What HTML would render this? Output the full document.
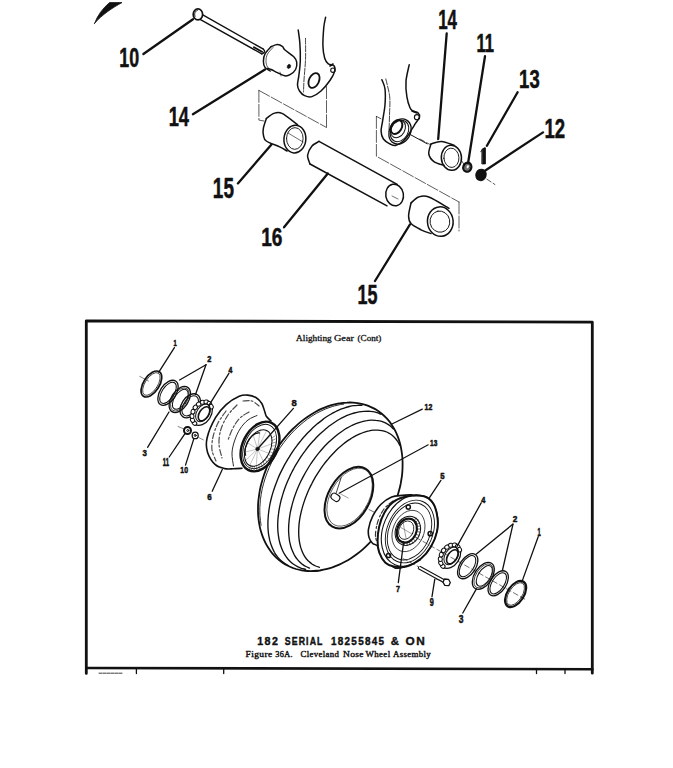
<!DOCTYPE html>
<html><head><meta charset="utf-8"><style>
html,body{margin:0;padding:0;background:#fff;}
svg{display:block;}
</style></head><body>
<svg width="673" height="768" viewBox="0 0 673 768" stroke-linecap="round" stroke-linejoin="round">
<rect width="673" height="768" fill="#fff"/>
<path d="M94.5,23.5 C97.5,15.5 102.5,8.5 109.5,2.6 L122,2.6 C113,7.5 102,14.5 94.5,23.5 Z" fill="#111" stroke="#111" stroke-width="0.80" />
<ellipse cx="197.9" cy="14.4" rx="4.70" ry="5.50" transform="rotate(0.0 197.9 14.4)" fill="none" stroke="#111" stroke-width="1.70" />
<path d="M195.1,16.4 C195.1,16.3 194.9,15.9 194.9,15.7 C194.8,15.5 194.8,15.2 194.7,15.0 C194.7,14.7 194.7,14.4 194.7,14.2 C194.7,13.9 194.7,13.7 194.8,13.4 C194.8,13.2 194.9,12.9 195.0,12.7 C195.1,12.5 195.2,12.3 195.3,12.0 C195.4,11.8 195.6,11.6 195.7,11.5 C195.9,11.3 196.0,11.1 196.2,11.0 C196.4,10.9 196.6,10.8 196.8,10.7 C196.9,10.6 197.2,10.5 197.3,10.5" fill="none" stroke="#111" stroke-width="1.00" />
<line x1="202.8" y1="14.9" x2="263.4" y2="49.2" stroke="#111" stroke-width="1.40" />
<line x1="200.5" y1="19.6" x2="261.8" y2="53.9" stroke="#111" stroke-width="1.40" />
<line x1="254.0" y1="47.2" x2="262.0" y2="51.8" stroke="#111" stroke-width="1.90" />
<path d="M263.4,49.2 Q266.5,52 261.8,53.9" fill="none" stroke="#111" stroke-width="1.40" />
<line x1="143.4" y1="54.0" x2="193.0" y2="19.2" stroke="#111" stroke-width="2.30" />
<text transform="translate(119.24 66.93) scale(0.1781 0.2704)" font-family="Liberation Sans" font-weight="bold" font-size="100" fill="#111" stroke="#111" stroke-width="2.01">10</text>
<path d="M271.2,46.6 C272.2,46.3 275.5,44.6 277.4,44.6 C279.3,44.6 281.4,45.7 282.6,46.6 C283.8,47.5 282.8,48.1 284.7,49.8 C286.6,51.5 292.0,54.9 294.0,57.0 C296.0,59.1 296.4,60.1 296.7,62.2 C297.0,64.3 296.7,67.4 295.6,69.5 C294.5,71.6 291.8,73.7 290.0,74.7 C288.2,75.8 286.8,76.2 284.7,75.8 C282.6,75.4 279.6,73.6 277.4,72.6 C275.1,71.5 272.8,70.2 271.2,69.5 C269.6,68.8 268.2,68.7 267.6,68.5" fill="none" stroke="#111" stroke-width="1.50" />
<path d="M271.2,46.6 C270.2,47.8 266.3,51.5 265.0,53.9 C263.7,56.3 263.4,59.0 263.4,61.2 C263.4,63.5 263.9,65.8 265.0,67.4 C266.1,69.0 269.3,70.4 270.2,71.0" fill="none" stroke="#111" stroke-width="1.50" />
<path d="M273.0,47.5 C272.1,48.6 268.7,51.8 267.5,54.0 C266.3,56.2 266.0,58.8 266.0,61.0 C266.0,63.2 266.6,65.5 267.5,67.0 C268.4,68.5 270.8,69.5 271.5,70.0" fill="none" stroke="#111" stroke-width="0.70" />
<ellipse cx="288.9" cy="66.4" rx="1.60" ry="2.20" transform="rotate(30.0 288.9 66.4)" fill="#111" stroke="#111" stroke-width="0.50" />
<line x1="280.0" y1="72.0" x2="281.0" y2="76.0" stroke="#111" stroke-width="0.60" />
<line x1="192.9" y1="114.2" x2="265.0" y2="69.5" stroke="#111" stroke-width="2.30" />
<text transform="translate(168.71 126.30) scale(0.1827 0.2754)" font-family="Liberation Sans" font-weight="bold" font-size="100" fill="#111" stroke="#111" stroke-width="1.96">14</text>
<path d="M298.2,30.0 C298.5,32.1 299.4,37.3 299.8,42.5 C300.2,47.7 300.5,55.7 300.3,61.2 C300.1,66.8 299.3,71.8 298.8,75.8 C298.3,79.8 297.4,82.5 297.5,85.0 C297.6,87.5 298.3,89.2 299.5,91.0 C300.7,92.8 302.5,94.7 304.6,95.6 C306.7,96.5 309.2,97.4 311.9,96.6 C314.6,95.8 318.0,93.7 321.0,91.0 C324.0,88.3 327.8,83.5 330.1,80.2 C332.4,76.9 334.1,73.5 334.7,71.1 C335.3,68.7 334.9,66.8 333.8,65.6 C332.7,64.4 329.8,65.0 328.3,63.8 C326.8,62.6 325.6,61.3 324.7,58.3 C323.8,55.2 323.0,50.7 322.9,45.5 C322.8,40.3 323.4,32.0 323.8,27.3 C324.2,22.6 325.3,19.0 325.6,17.3" fill="none" stroke="#111" stroke-width="1.50" />
<path d="M305.5,38.3 C305.5,41.9 305.8,53.0 305.5,60.0 C305.2,67.0 304.3,74.7 304.0,80.0 C303.7,85.3 303.6,90.0 303.5,92.0" fill="none" stroke="#111" stroke-width="0.80" stroke-dasharray="6 1.5"/>
<ellipse cx="314.0" cy="80.5" rx="5.00" ry="7.80" transform="rotate(25.0 314.0 80.5)" fill="none" stroke="#111" stroke-width="1.80" />
<ellipse cx="332.9" cy="70.2" rx="2.20" ry="2.20" transform="rotate(0.0 332.9 70.2)" fill="none" stroke="#111" stroke-width="1.10" />
<line x1="330.0" y1="66.0" x2="333.0" y2="64.0" stroke="#111" stroke-width="1.60" />
<path d="M258.9,90.4 L326.5,127.5 M258.9,90.4 L258.9,120.1 L264,121 M326.5,86.7 L326.5,127.5" stroke="#111" stroke-width="0.8" fill="none" stroke-dasharray="12 2" opacity="0.85"/>
<path d="M266.3,118.6 C267.6,117.7 271.2,114.3 273.8,113.4 C276.4,112.5 278.1,111.5 282.0,113.4 C285.9,115.3 294.9,122.7 297.5,124.6" fill="none" stroke="#111" stroke-width="1.50" />
<path d="M266.3,118.6 C265.8,120.2 263.9,125.3 263.4,128.0 C262.9,130.7 262.9,132.8 263.4,135.0 C263.9,137.2 263.6,139.0 266.3,141.0 C269.0,143.0 276.2,145.2 279.7,146.9 C283.1,148.6 285.8,150.3 287.0,151.0" fill="none" stroke="#111" stroke-width="1.50" />
<ellipse cx="294.9" cy="139.1" rx="13.89" ry="10.95" transform="rotate(-85.0 294.9 139.1)" fill="none" stroke="#111" stroke-width="1.50" />
<ellipse cx="294.8" cy="138.5" rx="8.30" ry="10.84" transform="rotate(-179.0 294.8 138.5)" fill="none" stroke="#111" stroke-width="0.90" />
<line x1="288.0" y1="133.0" x2="303.0" y2="142.0" stroke="#111" stroke-width="0.60" />
<line x1="237.9" y1="183.4" x2="271.5" y2="144.5" stroke="#111" stroke-width="2.30" />
<text transform="translate(212.87 197.51) scale(0.1892 0.2900)" font-family="Liberation Sans" font-weight="bold" font-size="100" fill="#111" stroke="#111" stroke-width="1.88">15</text>
<path d="M319.0,141.4 C317.8,142.2 313.9,143.7 312.0,146.0 C310.1,148.3 307.9,152.3 307.6,155.3 C307.3,158.3 309.6,162.6 310.0,164.0" fill="none" stroke="#111" stroke-width="1.50" />
<line x1="319.0" y1="141.4" x2="397.2" y2="184.3" stroke="#111" stroke-width="1.50" />
<line x1="310.0" y1="164.0" x2="387.0" y2="205.8" stroke="#111" stroke-width="1.50" />
<ellipse cx="394.6" cy="195.0" rx="10.88" ry="8.84" transform="rotate(-100.0 394.6 195.0)" fill="none" stroke="#111" stroke-width="1.50" />
<line x1="392.0" y1="196.0" x2="398.0" y2="199.0" stroke="#111" stroke-width="0.60" />
<line x1="327.8" y1="173.5" x2="284.0" y2="227.3" stroke="#111" stroke-width="2.30" />
<text transform="translate(261.16 245.54) scale(0.1911 0.2606)" font-family="Liberation Sans" font-weight="bold" font-size="100" fill="#111" stroke="#111" stroke-width="1.99">16</text>
<path d="M381.9,79.7 C382.4,81.2 384.5,84.8 385.0,89.0 C385.5,93.2 385.4,99.5 385.0,104.7 C384.6,109.9 383.3,115.9 382.7,120.3 C382.1,124.7 381.0,128.1 381.1,131.2 C381.2,134.4 382.0,136.9 383.4,139.0 C384.8,141.1 387.6,142.7 389.7,143.8 C391.8,144.8 393.4,146.1 396.0,145.3 C398.6,144.5 402.7,141.6 405.3,139.0 C407.9,136.4 409.9,132.3 411.6,129.7 C413.3,127.1 414.2,125.5 415.5,123.4 C416.8,121.3 419.0,119.0 419.4,117.2 C419.8,115.4 418.9,113.5 417.8,112.5 C416.7,111.5 414.3,111.8 413.0,111.0 C411.7,110.2 411.0,110.1 410.0,107.8 C409.0,105.5 407.6,101.3 406.9,96.9 C406.2,92.5 405.6,86.6 406.0,81.2 C406.4,75.9 408.7,67.5 409.2,64.8" fill="none" stroke="#111" stroke-width="1.50" />
<path d="M385.8,78.9 C386.4,81.9 389.1,90.9 389.7,96.9 C390.3,102.9 389.6,109.3 389.5,115.0 C389.4,120.7 389.1,128.3 389.0,131.0" fill="none" stroke="#111" stroke-width="0.80" stroke-dasharray="6 1.5"/>
<ellipse cx="400.0" cy="131.5" rx="10.50" ry="13.20" transform="rotate(30.0 400.0 131.5)" fill="none" stroke="#111" stroke-width="1.30" />
<ellipse cx="399.5" cy="131.0" rx="8.60" ry="11.20" transform="rotate(30.0 399.5 131.0)" fill="none" stroke="#111" stroke-width="1.00" />
<ellipse cx="398.0" cy="129.0" rx="6.80" ry="9.20" transform="rotate(30.0 398.0 129.0)" fill="none" stroke="#111" stroke-width="1.00" />
<ellipse cx="396.5" cy="127.0" rx="5.20" ry="7.50" transform="rotate(30.0 396.5 127.0)" fill="none" stroke="#111" stroke-width="2.00" />
<ellipse cx="417.0" cy="117.2" rx="2.60" ry="2.60" transform="rotate(0.0 417.0 117.2)" fill="none" stroke="#111" stroke-width="1.10" />
<line x1="412.0" y1="111.0" x2="417.0" y2="113.0" stroke="#111" stroke-width="1.60" />
<line x1="410.0" y1="134.4" x2="427.2" y2="143.8" stroke="#111" stroke-width="1.00" />
<path d="M376.4,116.4 L381,118.75 M376.4,116.4 L376.4,156.25 L459,202 M459,202 L459,231" stroke="#111" stroke-width="0.8" fill="none" stroke-dasharray="12 2" opacity="0.85"/>
<path d="M431.0,143.9 C432.7,143.5 437.6,141.2 441.4,141.4 C445.2,141.6 451.9,144.6 454.0,145.2" fill="none" stroke="#111" stroke-width="1.50" />
<path d="M431.0,143.9 C430.6,145.6 428.3,151.1 428.8,154.0 C429.3,156.9 431.4,159.7 433.9,161.6 C436.4,163.5 442.3,164.8 444.0,165.4" fill="none" stroke="#111" stroke-width="1.50" />
<ellipse cx="451.4" cy="157.8" rx="12.55" ry="10.07" transform="rotate(-93.5 451.4 157.8)" fill="none" stroke="#111" stroke-width="1.50" />
<ellipse cx="451.4" cy="157.8" rx="7.52" ry="9.65" transform="rotate(176.1 451.4 157.8)" fill="none" stroke="#111" stroke-width="0.90" />
<line x1="446.7" y1="33.4" x2="438.2" y2="139.0" stroke="#111" stroke-width="2.30" />
<text transform="translate(438.20 29.40) scale(0.1692 0.2710)" font-family="Liberation Sans" font-weight="bold" font-size="100" fill="#111" stroke="#111" stroke-width="2.04">14</text>
<ellipse cx="467.3" cy="167.2" rx="4.00" ry="4.60" transform="rotate(20.0 467.3 167.2)" fill="#777" stroke="#111" stroke-width="2.20" />
<ellipse cx="467.8" cy="166.8" rx="1.60" ry="2.00" transform="rotate(20.0 467.8 166.8)" fill="#fff" stroke="#111" stroke-width="0.40" />
<line x1="485.0" y1="56.2" x2="468.1" y2="163.0" stroke="#111" stroke-width="2.30" />
<text transform="translate(476.42 51.60) scale(0.1658 0.2638)" font-family="Liberation Sans" font-weight="bold" font-size="100" fill="#111" stroke="#111" stroke-width="2.10">11</text>
<ellipse cx="481.0" cy="174.9" rx="5.20" ry="5.80" transform="rotate(20.0 481.0 174.9)" fill="#111" stroke="#111" stroke-width="1.00" />
<line x1="543.0" y1="132.4" x2="484.2" y2="171.2" stroke="#111" stroke-width="2.30" />
<text transform="translate(544.49 137.70) scale(0.1861 0.2857)" font-family="Liberation Sans" font-weight="bold" font-size="100" fill="#111" stroke="#111" stroke-width="1.91">12</text>
<line x1="517.6" y1="92.3" x2="486.9" y2="145.8" stroke="#111" stroke-width="2.30" />
<text transform="translate(519.10 88.04) scale(0.1851 0.2648)" font-family="Liberation Sans" font-weight="bold" font-size="100" fill="#111" stroke="#111" stroke-width="2.00">13</text>
<path d="M482.2,149.5 L484.2,147.8 L485.4,147.8 L485.4,163.9 L482.2,163.9 Z M482.6,148.8 L480.8,151.8" fill="#111" stroke="#111" stroke-width="0.90" />
<g stroke="#111" stroke-width="0.7" stroke-dasharray="5 2.5">
<line x1="420.0" y1="139.0" x2="430.0" y2="144.5" stroke="#111" stroke-width="0.70" />
<line x1="461.5" y1="160.5" x2="464.0" y2="164.5" stroke="#111" stroke-width="0.70" />
<line x1="486.9" y1="179.2" x2="494.9" y2="184.5" stroke="#111" stroke-width="0.70" />
</g>
<path d="M411.0,203.0 C412.3,202.0 415.7,198.0 418.7,197.0 C421.7,196.0 423.8,195.1 428.8,197.0 C433.9,198.9 445.6,206.4 449.0,208.3" fill="none" stroke="#111" stroke-width="1.50" />
<path d="M411.0,203.0 C410.6,205.2 408.6,212.5 408.6,215.9 C408.6,219.3 408.9,221.2 411.0,223.5 C413.1,225.8 417.7,228.1 421.0,229.8 C424.3,231.5 429.3,233.0 431.0,233.6" fill="none" stroke="#111" stroke-width="1.50" />
<ellipse cx="440.3" cy="221.6" rx="12.83" ry="14.75" transform="rotate(175.0 440.3 221.6)" fill="none" stroke="#111" stroke-width="1.50" />
<ellipse cx="439.9" cy="221.6" rx="10.65" ry="9.85" transform="rotate(-100.9 439.9 221.6)" fill="none" stroke="#111" stroke-width="0.90" />
<line x1="375.0" y1="281.0" x2="409.9" y2="224.5" stroke="#111" stroke-width="2.30" />
<text transform="translate(357.43 303.72) scale(0.1794 0.2757)" font-family="Liberation Sans" font-weight="bold" font-size="100" fill="#111" stroke="#111" stroke-width="1.98">15</text>
<path d="M86.3,673.4 L86.3,320.8 L592.3,322.2 L592.3,673.2" fill="none" stroke="#111" stroke-width="2.8"/>
<path d="M86.3,668 L592.3,669.2" fill="none" stroke="#111" stroke-width="2.6"/>
<line x1="136.4" y1="669.0" x2="136.4" y2="673.5" stroke="#111" stroke-width="1.30" />
<line x1="223.7" y1="669.0" x2="223.7" y2="673.5" stroke="#111" stroke-width="1.30" />
<line x1="536.5" y1="669.0" x2="536.5" y2="673.5" stroke="#111" stroke-width="1.30" />
<line x1="565.0" y1="669.0" x2="565.0" y2="673.5" stroke="#111" stroke-width="1.30" />
<path d="M99,673.2 L122,673.2" stroke="#111" stroke-width="1.0" stroke-dasharray="3 1" opacity="0.8"/>
<text transform="translate(296.11 341.40) scale(0.0930 0.0794)" font-family="Liberation Serif" font-weight="normal" font-size="100" fill="#111" stroke="#111" stroke-width="3.48">Alighting</text>
<text transform="translate(333.89 341.40) scale(0.1034 0.0794)" font-family="Liberation Serif" font-weight="normal" font-size="100" fill="#111" stroke="#111" stroke-width="3.28">Gear</text>
<text transform="translate(357.59 341.40) scale(0.0911 0.0794)" font-family="Liberation Serif" font-weight="normal" font-size="100" fill="#111" stroke="#111" stroke-width="3.52">(Cont)</text>
<text transform="translate(257.31 645.20) scale(0.1066 0.1130)" font-family="Liberation Sans" font-weight="bold" font-size="100" fill="#111" letter-spacing="13.0" style="font-kerning:none" stroke="#111" stroke-width="3.64">182</text>
<text transform="translate(284.74 645.20) scale(0.0874 0.1130)" font-family="Liberation Sans" font-weight="bold" font-size="100" fill="#111" letter-spacing="13.0" style="font-kerning:none" stroke="#111" stroke-width="3.99">SERIAL</text>
<text transform="translate(330.95 645.20) scale(0.0992 0.1130)" font-family="Liberation Sans" font-weight="bold" font-size="100" fill="#111" letter-spacing="13.0" style="font-kerning:none" stroke="#111" stroke-width="3.77">18255845</text>
<text transform="translate(390.79 645.20) scale(0.1132 0.1130)" font-family="Liberation Sans" font-weight="bold" font-size="100" fill="#111" letter-spacing="13.0" style="font-kerning:none" stroke="#111" stroke-width="3.54">&amp;</text>
<text transform="translate(405.53 645.20) scale(0.1180 0.1130)" font-family="Liberation Sans" font-weight="bold" font-size="100" fill="#111" letter-spacing="13.0" style="font-kerning:none" stroke="#111" stroke-width="3.46">ON</text>
<text transform="translate(245.62 657.00) scale(0.0947 0.0870)" font-family="Liberation Serif" font-weight="normal" font-size="100" fill="#111" letter-spacing="4.0" style="font-kerning:none" stroke="#111" stroke-width="4.40">Figure</text>
<text transform="translate(275.29 657.00) scale(0.0825 0.0870)" font-family="Liberation Serif" font-weight="normal" font-size="100" fill="#111" letter-spacing="4.0" style="font-kerning:none" stroke="#111" stroke-width="4.72">36A.</text>
<text transform="translate(300.55 657.00) scale(0.0876 0.0870)" font-family="Liberation Serif" font-weight="normal" font-size="100" fill="#111" letter-spacing="4.0" style="font-kerning:none" stroke="#111" stroke-width="4.58">Cleveland</text>
<text transform="translate(342.92 657.00) scale(0.0948 0.0870)" font-family="Liberation Serif" font-weight="normal" font-size="100" fill="#111" letter-spacing="4.0" style="font-kerning:none" stroke="#111" stroke-width="4.40">Nose</text>
<text transform="translate(365.50 657.00) scale(0.0891 0.0870)" font-family="Liberation Serif" font-weight="normal" font-size="100" fill="#111" letter-spacing="4.0" style="font-kerning:none" stroke="#111" stroke-width="4.54">Wheel</text>
<text transform="translate(392.91 657.00) scale(0.0886 0.0870)" font-family="Liberation Serif" font-weight="normal" font-size="100" fill="#111" letter-spacing="4.0" style="font-kerning:none" stroke="#111" stroke-width="4.55">Assembly</text>
<ellipse cx="151.4" cy="384.0" rx="7.90" ry="14.60" transform="rotate(33.0 151.4 384.0)" fill="none" stroke="#111" stroke-width="1.70" />
<ellipse cx="151.4" cy="384.0" rx="6.30" ry="12.90" transform="rotate(33.0 151.4 384.0)" fill="none" stroke="#111" stroke-width="0.70" />
<line x1="139.7" y1="376.4" x2="148.4" y2="381.0" stroke="#111" stroke-width="0.50" />
<line x1="174.4" y1="347.6" x2="158.8" y2="372.1" stroke="#111" stroke-width="1.30" />
<text transform="translate(173.52 346.10) scale(0.0581 0.0855)" font-family="Liberation Sans" font-weight="bold" font-size="100" fill="#111" stroke="#111" stroke-width="6.27">1</text>
<ellipse cx="168.0" cy="392.8" rx="8.00" ry="14.00" transform="rotate(33.0 168.0 392.8)" fill="none" stroke="#111" stroke-width="1.30" />
<ellipse cx="168.0" cy="392.8" rx="6.10" ry="12.00" transform="rotate(33.0 168.0 392.8)" fill="none" stroke="#111" stroke-width="1.00" />
<ellipse cx="179.8" cy="399.5" rx="8.60" ry="14.50" transform="rotate(33.0 179.8 399.5)" fill="none" stroke="#111" stroke-width="1.30" />
<ellipse cx="179.8" cy="399.5" rx="7.20" ry="13.00" transform="rotate(33.0 179.8 399.5)" fill="none" stroke="#111" stroke-width="0.70" />
<ellipse cx="180.3" cy="399.3" rx="5.90" ry="11.30" transform="rotate(33.0 180.3 399.3)" fill="none" stroke="#111" stroke-width="1.00" />
<ellipse cx="190.2" cy="405.8" rx="8.60" ry="13.20" transform="rotate(33.0 190.2 405.8)" fill="none" stroke="#111" stroke-width="1.30" />
<ellipse cx="190.2" cy="405.8" rx="6.70" ry="11.20" transform="rotate(33.0 190.2 405.8)" fill="none" stroke="#111" stroke-width="1.00" />
<ellipse cx="201.8" cy="413.2" rx="9.40" ry="13.10" transform="rotate(33.0 201.8 413.2)" fill="#fff" stroke="#111" stroke-width="1.20" />
<ellipse cx="194.5" cy="423.1" rx="2.00" ry="2.40" transform="rotate(128.0 194.5 423.1)" fill="#fff" stroke="#111" stroke-width="1.00" />
<ellipse cx="192.5" cy="420.1" rx="2.00" ry="2.40" transform="rotate(150.8 192.5 420.1)" fill="#fff" stroke="#111" stroke-width="1.00" />
<ellipse cx="192.0" cy="416.1" rx="2.00" ry="2.40" transform="rotate(173.6 192.0 416.1)" fill="#fff" stroke="#111" stroke-width="1.00" />
<ellipse cx="193.0" cy="411.7" rx="2.00" ry="2.40" transform="rotate(196.3 193.0 411.7)" fill="#fff" stroke="#111" stroke-width="1.00" />
<ellipse cx="195.3" cy="407.4" rx="2.00" ry="2.40" transform="rotate(219.1 195.3 407.4)" fill="#fff" stroke="#111" stroke-width="1.00" />
<ellipse cx="198.7" cy="404.1" rx="2.00" ry="2.40" transform="rotate(241.9 198.7 404.1)" fill="#fff" stroke="#111" stroke-width="1.00" />
<ellipse cx="202.6" cy="402.2" rx="2.00" ry="2.40" transform="rotate(264.7 202.6 402.2)" fill="#fff" stroke="#111" stroke-width="1.00" />
<ellipse cx="206.3" cy="402.0" rx="2.00" ry="2.40" transform="rotate(287.4 206.3 402.0)" fill="#fff" stroke="#111" stroke-width="1.00" />
<ellipse cx="209.4" cy="403.6" rx="2.00" ry="2.40" transform="rotate(310.2 209.4 403.6)" fill="#fff" stroke="#111" stroke-width="1.00" />
<ellipse cx="211.2" cy="406.6" rx="2.00" ry="2.40" transform="rotate(333.0 211.2 406.6)" fill="#fff" stroke="#111" stroke-width="1.00" />
<ellipse cx="203.0" cy="412.9" rx="6.20" ry="9.70" transform="rotate(33.0 203.0 412.9)" fill="none" stroke="#111" stroke-width="1.00" />
<ellipse cx="204.0" cy="413.8" rx="4.60" ry="7.90" transform="rotate(33.0 204.0 413.8)" fill="none" stroke="#111" stroke-width="1.60" />
<line x1="206.0" y1="364.7" x2="179.6" y2="380.0" stroke="#111" stroke-width="1.30" />
<line x1="206.0" y1="364.7" x2="195.5" y2="394.5" stroke="#111" stroke-width="1.30" />
<text transform="translate(207.24 362.00) scale(0.0750 0.0886)" font-family="Liberation Sans" font-weight="bold" font-size="100" fill="#111" stroke="#111" stroke-width="5.50">2</text>
<line x1="228.9" y1="373.3" x2="209.1" y2="405.2" stroke="#111" stroke-width="1.30" />
<text transform="translate(228.50 372.90) scale(0.0692 0.0870)" font-family="Liberation Sans" font-weight="bold" font-size="100" fill="#111" stroke="#111" stroke-width="5.76">4</text>
<line x1="147.6" y1="447.3" x2="169.0" y2="412.0" stroke="#111" stroke-width="1.30" />
<text transform="translate(142.50 456.11) scale(0.0788 0.0944)" font-family="Liberation Sans" font-weight="bold" font-size="100" fill="#111" stroke="#111" stroke-width="5.20">3</text>
<ellipse cx="187.5" cy="430.5" rx="3.50" ry="3.50" transform="rotate(0.0 187.5 430.5)" fill="none" stroke="#111" stroke-width="2.00" />
<ellipse cx="187.8" cy="430.5" rx="1.00" ry="1.00" transform="rotate(0.0 187.8 430.5)" fill="#fff" stroke="#111" stroke-width="1.00" />
<ellipse cx="195.2" cy="435.4" rx="3.00" ry="3.30" transform="rotate(0.0 195.2 435.4)" fill="none" stroke="#111" stroke-width="1.30" />
<ellipse cx="195.2" cy="435.4" rx="1.00" ry="1.00" transform="rotate(0.0 195.2 435.4)" fill="none" stroke="#111" stroke-width="1.00" />
<line x1="178.0" y1="426.5" x2="184.0" y2="429.0" stroke="#111" stroke-width="0.50" />
<line x1="198.9" y1="437.6" x2="203.4" y2="439.9" stroke="#111" stroke-width="0.50" />
<line x1="169.2" y1="457.0" x2="184.8" y2="433.9" stroke="#111" stroke-width="1.30" />
<text transform="translate(162.82 466.30) scale(0.0591 0.1029)" font-family="Liberation Sans" font-weight="bold" font-size="100" fill="#111" stroke="#111" stroke-width="5.56">11</text>
<line x1="185.5" y1="465.1" x2="193.7" y2="439.1" stroke="#111" stroke-width="1.30" />
<text transform="translate(180.35 473.21) scale(0.0687 0.0944)" font-family="Liberation Sans" font-weight="bold" font-size="100" fill="#111" stroke="#111" stroke-width="5.52">10</text>
<path d="M271.0,421.0 C270.2,420.2 267.5,418.0 266.5,416.5 C265.5,415.0 265.6,414.0 264.8,411.8 C264.0,409.6 263.3,405.9 261.8,403.5 C260.3,401.1 258.3,398.9 255.9,397.5 C253.5,396.1 250.4,395.3 247.6,395.1 C244.8,394.9 242.8,394.7 239.2,396.3 C235.6,397.9 230.1,401.0 226.2,404.6 C222.2,408.2 218.7,412.1 215.5,417.7 C212.3,423.3 208.4,432.2 207.1,438.0 C205.8,443.8 206.1,447.8 207.5,452.2 C208.9,456.6 212.4,462.0 215.3,464.7 C218.2,467.4 221.8,467.9 224.7,468.6 C227.6,469.3 230.1,468.9 233.0,468.8 C235.9,468.8 240.5,468.4 242.0,468.3" fill="none" stroke="#111" stroke-width="1.60" />
<path d="M257.0,415.5 C255.5,416.2 250.8,417.8 248.0,420.0 C245.2,422.2 242.2,425.5 240.0,429.0 C237.8,432.5 235.8,437.0 234.5,441.0 C233.2,445.0 232.2,448.8 232.0,453.0 C231.8,457.2 233.2,463.8 233.5,466.0" fill="none" stroke="#111" stroke-width="0.90" />
<g stroke="#111" stroke-width="0.6" fill="none" stroke-dasharray="6 2 2 2.5" opacity="0.75">
<path d="M226.0,411.0 C224.7,413.0 220.2,418.7 218.0,423.0 C215.8,427.3 214.0,432.5 213.0,437.0 C212.0,441.5 211.5,446.0 212.0,450.0 C212.5,454.0 215.3,459.2 216.0,461.0" fill="none" stroke="#111" stroke-width="1.20" />
<path d="M237.0,405.0 C235.5,406.7 230.7,411.0 228.0,415.0 C225.3,419.0 222.5,424.2 221.0,429.0 C219.5,433.8 218.8,439.2 219.0,444.0 C219.2,448.8 221.5,455.7 222.0,458.0" fill="none" stroke="#111" stroke-width="1.20" />
<path d="M243.0,401.0 C244.5,401.0 249.3,400.2 252.0,401.0 C254.7,401.8 257.8,405.2 259.0,406.0" fill="none" stroke="#111" stroke-width="1.20" />
<path d="M249.0,412.0 C247.5,413.0 242.7,415.3 240.0,418.0 C237.3,420.7 235.0,424.3 233.0,428.0 C231.0,431.7 228.8,438.0 228.0,440.0" fill="none" stroke="#111" stroke-width="1.20" />
</g>
<ellipse cx="260.0" cy="446.5" rx="17.40" ry="26.30" transform="rotate(26.0 260.0 446.5)" fill="#fff" stroke="#111" stroke-width="2.40" />
<ellipse cx="259.6" cy="446.5" rx="15.00" ry="23.50" transform="rotate(26.0 259.6 446.5)" fill="none" stroke="#111" stroke-width="0.90" />
<g stroke="#111" stroke-width="0.45" opacity="0.75">
<line x1="271.7" y1="438.0" x2="275.0" y2="435.9" stroke="#111" stroke-width="0.55" />
<line x1="271.9" y1="440.5" x2="275.4" y2="439.0" stroke="#111" stroke-width="0.55" />
<line x1="271.9" y1="443.2" x2="275.3" y2="442.3" stroke="#111" stroke-width="0.55" />
<line x1="271.5" y1="446.0" x2="274.9" y2="445.8" stroke="#111" stroke-width="0.55" />
<line x1="270.7" y1="448.9" x2="274.0" y2="449.3" stroke="#111" stroke-width="0.55" />
<line x1="269.7" y1="451.7" x2="272.7" y2="452.8" stroke="#111" stroke-width="0.55" />
<line x1="268.4" y1="454.5" x2="271.1" y2="456.1" stroke="#111" stroke-width="0.55" />
<line x1="266.8" y1="457.1" x2="269.2" y2="459.3" stroke="#111" stroke-width="0.55" />
<line x1="265.0" y1="459.4" x2="267.0" y2="462.2" stroke="#111" stroke-width="0.55" />
<line x1="263.0" y1="461.5" x2="264.5" y2="464.7" stroke="#111" stroke-width="0.55" />
<line x1="261.0" y1="463.3" x2="262.0" y2="466.9" stroke="#111" stroke-width="0.55" />
<line x1="258.8" y1="464.7" x2="259.3" y2="468.5" stroke="#111" stroke-width="0.55" />
<line x1="256.7" y1="465.7" x2="256.6" y2="469.7" stroke="#111" stroke-width="0.55" />
<line x1="254.5" y1="466.2" x2="253.9" y2="470.3" stroke="#111" stroke-width="0.55" />
<line x1="252.5" y1="466.3" x2="251.4" y2="470.4" stroke="#111" stroke-width="0.55" />
<line x1="250.6" y1="465.9" x2="249.0" y2="469.9" stroke="#111" stroke-width="0.55" />
</g>
<ellipse cx="258.2" cy="448.0" rx="12.00" ry="19.50" transform="rotate(26.0 258.2 448.0)" fill="none" stroke="#111" stroke-width="1.00" />
<path d="M245.6,455.1 C245.5,454.9 245.4,454.4 245.3,453.9 C245.2,453.5 245.1,453.1 245.1,452.6 C245.1,452.2 245.0,451.7 245.0,451.2 C245.1,450.7 245.1,450.2 245.2,449.7 C245.2,449.2 245.3,448.7 245.4,448.1 C245.5,447.6 245.6,447.1 245.8,446.6 C245.9,446.0 246.1,445.5 246.3,445.0 C246.5,444.4 246.7,443.9 246.9,443.4 C247.1,442.9 247.4,442.3 247.6,441.8 C247.9,441.3 248.2,440.8 248.5,440.4 C248.8,439.9 249.1,439.4 249.4,439.0 C249.7,438.5 250.1,438.1 250.4,437.7 C250.8,437.3 251.1,436.9 251.5,436.5 C251.9,436.1 252.2,435.8 252.6,435.5 C253.0,435.2 253.4,434.9 253.8,434.6 C254.1,434.4 254.5,434.1 254.9,433.9 C255.3,433.7 255.7,433.5 256.1,433.4 C256.4,433.3 256.8,433.2 257.2,433.1 C257.6,433.0 257.9,433.0 258.3,432.9 C258.6,432.9 259.1,433.0 259.3,433.0" fill="none" stroke="#111" stroke-width="1.30" />
<g stroke="#111" stroke-width="0.4" opacity="0.55">
<line x1="257.5" y1="449.0" x2="269.0" y2="453.3" stroke="#111" stroke-width="0.45" />
<line x1="257.5" y1="449.0" x2="263.3" y2="461.3" stroke="#111" stroke-width="0.45" />
<line x1="257.5" y1="449.0" x2="256.2" y2="465.8" stroke="#111" stroke-width="0.45" />
<line x1="257.5" y1="449.0" x2="249.7" y2="465.5" stroke="#111" stroke-width="0.45" />
<line x1="257.5" y1="449.0" x2="245.4" y2="460.5" stroke="#111" stroke-width="0.45" />
<line x1="257.5" y1="449.0" x2="244.6" y2="452.2" stroke="#111" stroke-width="0.45" />
<line x1="257.5" y1="449.0" x2="247.4" y2="442.7" stroke="#111" stroke-width="0.45" />
<line x1="257.5" y1="449.0" x2="253.1" y2="434.7" stroke="#111" stroke-width="0.45" />
<line x1="257.5" y1="449.0" x2="260.2" y2="430.2" stroke="#111" stroke-width="0.45" />
<line x1="257.5" y1="449.0" x2="266.7" y2="430.5" stroke="#111" stroke-width="0.45" />
<line x1="257.5" y1="449.0" x2="271.0" y2="435.5" stroke="#111" stroke-width="0.45" />
<line x1="257.5" y1="449.0" x2="271.8" y2="443.8" stroke="#111" stroke-width="0.45" />
</g>
<line x1="293.4" y1="408.4" x2="257.5" y2="449.0" stroke="#111" stroke-width="1.30" />
<ellipse cx="257.5" cy="449.0" rx="1.60" ry="1.60" transform="rotate(0.0 257.5 449.0)" fill="#111" stroke="#111" stroke-width="1.00" />
<text transform="translate(291.62 406.01) scale(0.0949 0.0887)" font-family="Liberation Sans" font-weight="bold" font-size="100" fill="#111" stroke="#111" stroke-width="4.90">8</text>
<line x1="212.2" y1="491.2" x2="222.3" y2="469.4" stroke="#111" stroke-width="1.30" />
<text transform="translate(207.22 499.70) scale(0.0804 0.0986)" font-family="Liberation Sans" font-weight="bold" font-size="100" fill="#111" stroke="#111" stroke-width="5.03">6</text>
<path d="M375.2,409.1 C375.9,409.6 378.4,411.1 379.9,412.3 C381.5,413.4 382.9,414.7 384.3,416.0 C385.7,417.3 387.0,418.7 388.3,420.2 C389.6,421.7 390.7,423.3 391.8,425.0 C392.9,426.7 394.0,428.4 394.9,430.2 C395.9,432.1 396.7,433.9 397.5,435.9 C398.3,437.9 399.0,439.9 399.6,442.0 C400.2,444.0 400.7,446.2 401.1,448.3 C401.5,450.5 401.9,452.8 402.1,455.0 C402.4,457.3 402.5,459.6 402.6,462.0 C402.6,464.3 402.6,466.7 402.5,469.1 C402.4,471.5 402.2,473.9 401.9,476.3 C401.5,478.8 401.1,481.2 400.7,483.7 C400.2,486.1 399.6,488.6 398.9,491.0 C398.3,493.5 397.5,495.9 396.7,498.3 C395.9,500.8 394.9,503.2 394.0,505.6 C393.0,508.0 391.9,510.3 390.7,512.7 C389.6,515.0 388.3,517.3 387.0,519.6 C385.7,521.8 384.3,524.0 382.9,526.2 C381.5,528.4 379.9,530.5 378.4,532.5 C376.8,534.6 375.2,536.6 373.5,538.5 C371.8,540.5 370.1,542.3 368.3,544.1 C366.5,545.9 364.6,547.7 362.8,549.3 C360.9,551.0 359.0,552.5 357.0,554.0 C355.0,555.5 353.1,556.9 351.0,558.2 C349.0,559.5 347.0,560.7 344.9,561.8 C342.9,562.9 340.8,564.0 338.7,564.9 C336.6,565.8 334.5,566.6 332.4,567.4 C330.3,568.1 328.2,568.7 326.1,569.2 C324.0,569.7 321.9,570.1 319.8,570.5 C317.7,570.8 315.7,571.0 313.6,571.0 C311.6,571.1 309.5,571.1 307.6,571.0 C305.6,570.9 303.6,570.6 301.7,570.3 C299.7,570.0 297.8,569.5 296.0,569.0 C294.1,568.4 292.3,567.8 290.6,567.0 C288.8,566.3 287.1,565.4 285.4,564.5 C283.8,563.5 282.2,562.5 280.7,561.3 C279.1,560.2 277.7,558.9 276.3,557.6 C274.9,556.3 273.6,554.9 272.3,553.4 C271.0,551.9 269.9,550.3 268.8,548.6 C267.7,546.9 266.6,545.2 265.7,543.4 C264.7,541.5 263.9,539.7 263.1,537.7 C262.3,535.7 261.6,533.7 261.0,531.6 C260.4,529.6 259.9,527.4 259.5,525.3 C259.1,523.1 258.7,520.8 258.5,518.6 C258.2,516.3 258.1,514.0 258.0,511.6 C258.0,509.3 258.0,506.9 258.1,504.5 C258.2,502.1 258.4,499.7 258.8,497.3 C259.1,494.8 259.5,492.4 259.9,489.9 C260.4,487.5 261.0,485.0 261.7,482.6 C262.3,480.1 263.1,477.7 263.9,475.3 C264.7,472.8 265.7,470.4 266.6,468.0 C267.6,465.6 268.7,463.3 269.9,460.9 C271.0,458.6 272.3,456.3 273.6,454.1 C274.9,451.8 276.3,449.6 277.7,447.4 C279.1,445.2 280.7,443.1 282.2,441.1 C283.8,439.0 285.4,437.0 287.1,435.1 C288.8,433.1 290.5,431.3 292.3,429.5 C294.1,427.7 296.0,425.9 297.8,424.3 C299.7,422.6 301.6,421.1 303.6,419.6 C305.6,418.1 307.5,416.7 309.6,415.4 C311.6,414.1 313.6,412.9 315.7,411.8 C317.7,410.7 319.8,409.6 321.9,408.7 C324.0,407.8 326.1,407.0 328.2,406.2 C330.3,405.5 332.4,404.9 334.5,404.4 C336.6,403.9 338.7,403.5 340.8,403.2 C342.9,402.8 344.9,402.6 347.0,402.6 C349.0,402.5 351.1,402.5 353.0,402.6 C355.0,402.7 357.0,403.0 358.9,403.3 C360.9,403.6 362.8,404.1 364.6,404.6 C366.5,405.2 368.3,405.8 370.0,406.6 C371.8,407.3 374.3,408.7 375.2,409.1" fill="none" stroke="#111" stroke-width="1.80" />
<path d="M261.1,525.3 C261.0,524.5 260.6,522.1 260.4,520.4 C260.2,518.8 260.0,517.1 259.9,515.4 C259.8,513.7 259.8,512.0 259.8,510.3 C259.8,508.5 259.8,506.8 260.0,505.0 C260.1,503.3 260.2,501.5 260.4,499.7 C260.6,497.9 260.9,496.1 261.2,494.3 C261.5,492.5 261.8,490.7 262.2,488.9 C262.6,487.1 263.1,485.3 263.6,483.5 C264.1,481.7 264.6,479.9 265.2,478.1 C265.8,476.3 266.4,474.5 267.1,472.8 C267.8,471.0 268.5,469.2 269.3,467.5 C270.0,465.7 270.8,464.0 271.7,462.2 C272.5,460.5 273.4,458.8 274.4,457.1 C275.3,455.4 276.3,453.8 277.3,452.1 C278.3,450.5 279.3,448.9 280.4,447.3 C281.5,445.7 282.6,444.1 283.8,442.6 C284.9,441.1 286.1,439.6 287.3,438.1 C288.5,436.7 289.8,435.2 291.0,433.9 C292.3,432.5 293.6,431.1 294.9,429.8 C296.3,428.5 297.6,427.2 299.0,426.0 C300.4,424.8 301.8,423.6 303.2,422.4 C304.6,421.3 306.0,420.2 307.5,419.1 C308.9,418.1 310.4,417.1 311.9,416.1 C313.3,415.2 314.8,414.3 316.3,413.4 C317.8,412.6 319.3,411.8 320.9,411.1 C322.4,410.3 323.9,409.6 325.4,409.0 C327.0,408.4 328.5,407.8 330.0,407.3 C331.6,406.7 333.1,406.3 334.6,405.9 C336.1,405.5 337.7,405.1 339.2,404.8 C340.7,404.5 343.0,404.2 343.7,404.1" fill="none" stroke="#111" stroke-width="0.90" />
<path d="M361.9,405.3 C361.2,405.3 359.2,405.2 357.8,405.3 C356.4,405.4 355.0,405.5 353.6,405.7 C352.2,405.9 350.7,406.2 349.3,406.5 C347.8,406.9 346.3,407.3 344.8,407.8 C343.4,408.3 341.9,408.8 340.3,409.4 C338.8,410.1 337.3,410.7 335.8,411.5 C334.3,412.3 332.7,413.1 331.2,414.0 C329.7,414.9 328.2,415.8 326.6,416.8 C325.1,417.8 323.6,418.9 322.1,420.1 C320.6,421.2 319.1,422.4 317.6,423.6 C316.1,424.9 314.6,426.2 313.1,427.5 C311.7,428.9 310.2,430.3 308.8,431.8 C307.4,433.2 306.0,434.7 304.6,436.3 C303.2,437.8 301.8,439.4 300.5,441.1 C299.2,442.7 297.8,444.4 296.6,446.1 C295.3,447.8 294.0,449.6 292.8,451.3 C291.6,453.1 290.4,454.9 289.3,456.8 C288.1,458.6 287.0,460.5 286.0,462.4 C284.9,464.2 283.9,466.2 282.9,468.1 C281.9,470.0 280.9,471.9 280.0,473.9 C279.1,475.8 278.3,477.8 277.5,479.8 C276.7,481.8 275.9,483.7 275.2,485.7 C274.5,487.7 273.8,489.7 273.2,491.6 C272.6,493.6 272.0,495.6 271.5,497.5 C271.0,499.5 270.5,501.5 270.1,503.4 C269.7,505.3 269.4,507.3 269.1,509.2 C268.8,511.1 268.6,512.9 268.4,514.8 C268.2,516.7 268.1,518.5 268.0,520.3 C267.9,522.1 267.9,523.9 267.9,525.6 C268.0,527.4 268.0,529.1 268.2,530.7 C268.3,532.4 268.5,534.0 268.8,535.6 C269.1,537.2 269.4,538.7 269.7,540.2 C270.1,541.7 270.5,543.2 271.0,544.6 C271.5,546.0 272.0,547.3 272.6,548.6 C273.1,549.9 273.8,551.2 274.4,552.3 C275.1,553.5 275.8,554.7 276.6,555.7 C277.4,556.8 278.2,557.8 279.1,558.7 C279.9,559.7 280.9,560.5 281.8,561.4 C282.8,562.2 283.8,562.9 284.8,563.6 C285.8,564.3 287.5,565.1 288.0,565.4" fill="none" stroke="#111" stroke-width="1.35" />
<path d="M380.9,414.2 C380.2,414.0 378.3,413.1 377.0,412.7 C375.6,412.3 374.2,411.9 372.8,411.7 C371.4,411.5 369.9,411.3 368.4,411.2 C366.9,411.2 365.4,411.2 363.8,411.3 C362.2,411.4 360.7,411.6 359.1,411.9 C357.4,412.2 355.8,412.6 354.2,413.0 C352.5,413.5 350.9,414.0 349.2,414.7 C347.5,415.3 345.8,416.1 344.1,416.9 C342.4,417.7 340.7,418.6 339.0,419.5 C337.4,420.5 335.7,421.6 334.0,422.7 C332.3,423.8 330.6,425.0 328.9,426.3 C327.3,427.6 325.6,428.9 324.0,430.4 C322.3,431.8 320.7,433.3 319.1,434.8 C317.5,436.4 315.9,438.0 314.4,439.7 C312.8,441.3 311.3,443.1 309.8,444.8 C308.3,446.6 306.9,448.4 305.5,450.3 C304.0,452.2 302.7,454.1 301.3,456.1 C300.0,458.1 298.7,460.1 297.5,462.1 C296.2,464.1 295.0,466.2 293.9,468.3 C292.7,470.4 291.7,472.5 290.6,474.6 C289.6,476.8 288.6,478.9 287.7,481.1 C286.8,483.2 285.9,485.4 285.1,487.6 C284.3,489.8 283.5,492.0 282.9,494.1 C282.2,496.3 281.6,498.5 281.0,500.6 C280.5,502.8 280.0,505.0 279.6,507.1 C279.2,509.2 278.8,511.3 278.6,513.4 C278.3,515.5 278.1,517.6 277.9,519.6 C277.8,521.6 277.7,523.6 277.7,525.6 C277.7,527.5 277.8,529.5 277.9,531.3 C278.1,533.2 278.3,535.0 278.6,536.8 C278.9,538.6 279.2,540.3 279.6,542.0 C280.0,543.6 280.5,545.2 281.1,546.8 C281.6,548.3 282.2,549.8 282.9,551.2 C283.6,552.6 284.3,553.9 285.1,555.2 C285.9,556.5 286.8,557.7 287.7,558.8 C288.7,559.9 289.6,560.9 290.7,561.9 C291.7,562.9 292.8,563.7 294.0,564.5 C295.1,565.3 296.3,566.0 297.6,566.7 C298.8,567.3 300.1,567.8 301.4,568.3 C302.8,568.7 304.9,569.2 305.6,569.4" fill="none" stroke="#111" stroke-width="1.35" />
<path d="M393.4,428.9 C392.9,428.4 391.5,427.0 390.4,426.1 C389.4,425.3 388.3,424.5 387.2,423.9 C386.0,423.2 384.8,422.6 383.6,422.1 C382.4,421.6 381.1,421.2 379.7,420.9 C378.4,420.6 377.1,420.4 375.7,420.3 C374.3,420.1 372.8,420.1 371.3,420.1 C369.9,420.2 368.4,420.3 366.8,420.6 C365.3,420.8 363.8,421.1 362.2,421.6 C360.6,422.0 359.0,422.5 357.4,423.1 C355.8,423.7 354.2,424.4 352.6,425.1 C351.0,425.9 349.3,426.7 347.7,427.7 C346.0,428.6 344.4,429.6 342.8,430.7 C341.1,431.8 339.5,433.0 337.9,434.2 C336.3,435.5 334.7,436.8 333.1,438.2 C331.5,439.6 329.9,441.0 328.3,442.6 C326.8,444.1 325.2,445.7 323.7,447.3 C322.2,449.0 320.7,450.7 319.3,452.4 C317.8,454.2 316.4,456.0 315.0,457.8 C313.7,459.7 312.3,461.6 311.0,463.5 C309.7,465.5 308.5,467.4 307.3,469.5 C306.1,471.5 304.9,473.5 303.8,475.6 C302.7,477.6 301.6,479.7 300.6,481.8 C299.6,483.9 298.7,486.0 297.8,488.1 C296.9,490.3 296.1,492.4 295.3,494.5 C294.5,496.7 293.8,498.8 293.2,500.9 C292.5,503.1 292.0,505.2 291.5,507.3 C290.9,509.4 290.5,511.5 290.1,513.5 C289.8,515.6 289.5,517.7 289.2,519.7 C289.0,521.7 288.8,523.7 288.7,525.6 C288.6,527.6 288.6,529.5 288.6,531.3 C288.7,533.2 288.8,535.0 289.0,536.8 C289.2,538.5 289.4,540.3 289.7,541.9 C290.1,543.6 290.4,545.2 290.9,546.7 C291.4,548.3 291.9,549.7 292.5,551.1 C293.1,552.5 293.7,553.9 294.4,555.1 C295.2,556.4 295.9,557.6 296.8,558.7 C297.6,559.8 298.5,560.9 299.5,561.8 C300.4,562.8 301.5,563.6 302.5,564.4 C303.6,565.2 304.7,565.9 305.9,566.5 C307.1,567.1 308.9,567.8 309.6,568.1" fill="none" stroke="#111" stroke-width="1.35" />
<path d="M399.7,445.2 C399.4,444.6 398.4,442.6 397.7,441.5 C396.9,440.3 396.1,439.2 395.2,438.2 C394.3,437.2 393.4,436.3 392.4,435.5 C391.4,434.7 390.3,434.0 389.2,433.3 C388.1,432.7 386.9,432.1 385.7,431.7 C384.5,431.2 383.2,430.9 381.9,430.6 C380.6,430.4 379.2,430.2 377.9,430.1 C376.5,430.0 375.0,430.1 373.6,430.2 C372.1,430.3 370.6,430.5 369.1,430.9 C367.6,431.2 366.1,431.6 364.5,432.1 C363.0,432.6 361.4,433.2 359.8,433.9 C358.3,434.6 356.6,435.3 355.1,436.2 C353.5,437.1 351.8,438.0 350.2,439.1 C348.6,440.1 347.0,441.2 345.4,442.4 C343.8,443.6 342.3,444.9 340.7,446.3 C339.1,447.6 337.5,449.0 336.0,450.5 C334.5,452.0 333.0,453.6 331.5,455.2 C330.0,456.8 328.5,458.5 327.1,460.3 C325.7,462.0 324.3,463.8 322.9,465.6 C321.6,467.5 320.3,469.4 319.0,471.3 C317.7,473.2 316.5,475.2 315.3,477.2 C314.2,479.2 313.0,481.2 312.0,483.3 C310.9,485.3 309.9,487.4 308.9,489.5 C308.0,491.5 307.1,493.7 306.3,495.8 C305.4,497.9 304.7,500.0 304.0,502.1 C303.3,504.2 302.6,506.3 302.1,508.4 C301.5,510.4 301.0,512.5 300.6,514.6 C300.1,516.6 299.8,518.7 299.5,520.6 C299.2,522.6 299.0,524.6 298.9,526.6 C298.7,528.5 298.7,530.4 298.7,532.2 C298.7,534.1 298.8,535.9 298.9,537.6 C299.1,539.4 299.3,541.1 299.6,542.7 C299.9,544.3 300.3,545.9 300.7,547.4 C301.2,548.9 301.7,550.3 302.3,551.7 C302.8,553.1 303.5,554.4 304.2,555.6 C304.9,556.8 305.7,557.9 306.5,559.0 C307.4,560.0 308.3,561.0 309.3,561.8 C310.2,562.7 311.3,563.5 312.3,564.2 C313.4,564.9 314.6,565.5 315.7,566.0 C316.9,566.5 318.8,567.1 319.4,567.3" fill="none" stroke="#111" stroke-width="1.35" />
<ellipse cx="348.9" cy="497.7" rx="20.60" ry="33.40" transform="rotate(29.7 348.9 497.7)" fill="none" stroke="#111" stroke-width="2.00" />
<ellipse cx="349.6" cy="497.2" rx="19.00" ry="31.60" transform="rotate(29.7 349.6 497.2)" fill="none" stroke="#111" stroke-width="0.60" />
<line x1="341.2" y1="477.5" x2="336.3" y2="492.6" stroke="#111" stroke-width="0.80" />
<rect x="-4.6" y="-3.3" width="9.2" height="6.6" rx="3" transform="translate(335.4 497.3) rotate(35)" fill="#fff" stroke="#111" stroke-width="1.1"/>
<line x1="340.5" y1="493.8" x2="348.2" y2="498.0" stroke="#111" stroke-width="0.40" />
<line x1="428.2" y1="444.8" x2="339.1" y2="493.3" stroke="#111" stroke-width="1.10" />
<text transform="translate(430.08 446.21) scale(0.0653 0.0944)" font-family="Liberation Sans" font-weight="bold" font-size="100" fill="#111" stroke="#111" stroke-width="5.64">13</text>
<line x1="422.3" y1="409.1" x2="391.4" y2="424.2" stroke="#111" stroke-width="1.20" />
<text transform="translate(424.55 410.20) scale(0.0697 0.0943)" font-family="Liberation Sans" font-weight="bold" font-size="100" fill="#111" stroke="#111" stroke-width="5.49">12</text>
<path d="M412.0,494.8 C410.4,494.9 405.8,495.0 402.4,495.4 C399.0,495.8 395.3,495.6 391.7,497.1 C388.1,498.6 384.2,501.1 381.0,504.3 C377.8,507.5 374.8,512.1 372.7,516.2 C370.6,520.4 369.1,525.6 368.5,529.2 C367.9,532.8 368.4,535.2 369.1,537.6 C369.8,540.0 371.1,541.9 372.7,543.5 C374.3,545.1 374.9,542.9 378.6,547.0 C382.3,551.1 388.1,565.8 395.0,568.0 C401.9,570.2 415.8,561.3 420.0,560.0" fill="#fff" stroke="#111" stroke-width="1.60" />
<g stroke="#111" stroke-width="0.6" fill="none" stroke-dasharray="5 2 2 3" opacity="0.85">
<path d="M393.0,501.0 C391.5,502.3 386.5,505.7 384.0,509.0 C381.5,512.3 379.4,516.8 378.0,521.0 C376.6,525.2 375.7,530.3 375.5,534.0 C375.3,537.7 376.8,541.5 377.0,543.0" fill="none" stroke="#111" stroke-width="1.20" />
<path d="M400.0,498.0 C398.3,499.3 392.7,502.5 390.0,506.0 C387.3,509.5 385.5,514.7 384.0,519.0 C382.5,523.3 381.5,529.8 381.0,532.0" fill="none" stroke="#111" stroke-width="1.20" />
</g>
<path d="M405.2,496.7 C410.4,495.7 419.3,495.1 424.0,496.2 C428.7,497.3 431.1,499.9 433.3,503.5 C435.6,507.1 436.9,513.3 437.5,518.0 C438.1,522.7 438.0,526.9 437.0,531.6 C436.0,536.3 433.9,541.7 431.2,546.2 C428.6,550.7 425.0,555.3 420.8,558.7 C416.6,562.1 410.8,565.2 406.2,566.5 C401.7,567.8 397.2,567.1 393.8,566.5 C390.3,565.9 387.8,565.1 385.4,562.8 C383.0,560.4 380.5,556.0 379.2,552.4 C377.9,548.8 377.6,545.3 377.6,541.0 C377.6,536.7 378.1,531.1 379.2,526.4 C380.3,521.7 382.1,516.8 384.4,512.8 C386.6,508.8 389.2,505.1 392.7,502.4 C396.2,499.7 400.0,497.7 405.2,496.7Z" fill="#fff" stroke="#111" stroke-width="2.00" />
<ellipse cx="409.6" cy="530.5" rx="26.36" ry="37.13" transform="rotate(23.1 409.6 530.5)" fill="none" stroke="#111" stroke-width="1.10" />
<ellipse cx="409.9" cy="531.5" rx="22.80" ry="32.60" transform="rotate(23.1 409.9 531.5)" fill="none" stroke="#111" stroke-width="0.90" />
<ellipse cx="409.5" cy="531.5" rx="20.60" ry="29.60" transform="rotate(23.1 409.5 531.5)" fill="none" stroke="#111" stroke-width="0.90" />
<ellipse cx="408.5" cy="531.0" rx="15.50" ry="21.50" transform="rotate(23.1 408.5 531.0)" fill="none" stroke="#111" stroke-width="0.70" />
<g stroke="#111" stroke-width="0.6">
<line x1="414.5" y1="520.3" x2="416.1" y2="518.1" stroke="#111" stroke-width="0.60" />
<line x1="416.0" y1="521.9" x2="418.2" y2="520.1" stroke="#111" stroke-width="0.60" />
<line x1="417.1" y1="524.0" x2="419.7" y2="522.7" stroke="#111" stroke-width="0.60" />
<line x1="417.8" y1="526.4" x2="420.6" y2="525.7" stroke="#111" stroke-width="0.60" />
<line x1="417.9" y1="529.0" x2="420.8" y2="529.0" stroke="#111" stroke-width="0.60" />
<line x1="417.5" y1="531.7" x2="420.4" y2="532.3" stroke="#111" stroke-width="0.60" />
<line x1="416.6" y1="534.4" x2="419.3" y2="535.6" stroke="#111" stroke-width="0.60" />
<line x1="415.2" y1="536.9" x2="417.7" y2="538.6" stroke="#111" stroke-width="0.60" />
<line x1="413.5" y1="539.1" x2="415.5" y2="541.3" stroke="#111" stroke-width="0.60" />
<line x1="411.5" y1="540.8" x2="413.0" y2="543.4" stroke="#111" stroke-width="0.60" />
<line x1="409.3" y1="542.1" x2="410.1" y2="544.8" stroke="#111" stroke-width="0.60" />
<line x1="407.0" y1="542.7" x2="407.2" y2="545.6" stroke="#111" stroke-width="0.60" />
<line x1="404.8" y1="542.8" x2="404.3" y2="545.5" stroke="#111" stroke-width="0.60" />
<line x1="402.7" y1="542.2" x2="401.5" y2="544.8" stroke="#111" stroke-width="0.60" />
</g>
<ellipse cx="407.8" cy="530.8" rx="12.20" ry="15.00" transform="rotate(25.0 407.8 530.8)" fill="none" stroke="#111" stroke-width="1.00" />
<ellipse cx="406.8" cy="530.6" rx="9.60" ry="12.40" transform="rotate(25.0 406.8 530.6)" fill="none" stroke="#111" stroke-width="2.20" />
<ellipse cx="406.2" cy="530.2" rx="7.20" ry="9.60" transform="rotate(25.0 406.2 530.2)" fill="none" stroke="#111" stroke-width="0.80" />
<line x1="400.0" y1="527.0" x2="412.0" y2="534.0" stroke="#111" stroke-width="0.40" />
<line x1="403.0" y1="522.0" x2="406.0" y2="538.0" stroke="#111" stroke-width="0.40" />
<ellipse cx="408.3" cy="507.1" rx="2.10" ry="2.10" transform="rotate(0.0 408.3 507.1)" fill="none" stroke="#111" stroke-width="1.50" />
<ellipse cx="430.2" cy="533.7" rx="2.10" ry="2.10" transform="rotate(0.0 430.2 533.7)" fill="none" stroke="#111" stroke-width="1.50" />
<ellipse cx="388.5" cy="555.5" rx="2.10" ry="2.10" transform="rotate(0.0 388.5 555.5)" fill="none" stroke="#111" stroke-width="1.50" />
<line x1="369.1" y1="509.6" x2="373.9" y2="512.0" stroke="#111" stroke-width="0.60" />
<line x1="440.9" y1="480.4" x2="429.0" y2="498.3" stroke="#111" stroke-width="1.30" />
<text transform="translate(440.17 479.31) scale(0.0780 0.0914)" font-family="Liberation Sans" font-weight="bold" font-size="100" fill="#111" stroke="#111" stroke-width="5.31">5</text>
<line x1="398.3" y1="582.6" x2="403.7" y2="541.6" stroke="#111" stroke-width="1.30" />
<text transform="translate(395.98 592.20) scale(0.0710 0.0986)" font-family="Liberation Sans" font-weight="bold" font-size="100" fill="#111" stroke="#111" stroke-width="5.31">7</text>
<line x1="420.3" y1="566.6" x2="444.0" y2="579.6" stroke="#111" stroke-width="1.10" />
<line x1="418.9" y1="569.1" x2="443.5" y2="582.6" stroke="#111" stroke-width="1.10" />
<path d="M419,566.5 Q417,568.5 418.8,569.3" fill="none" stroke="#111" stroke-width="1.00" />
<polygon points="444.5,579 448.5,579.3 450.3,582.5 448.8,585.7 444.8,585.4 443,582.2" fill="#fff" stroke="#111" stroke-width="1.3"/>
<line x1="432.0" y1="596.6" x2="434.8" y2="579.2" stroke="#111" stroke-width="1.30" />
<text transform="translate(429.75 606.09) scale(0.0722 0.1085)" font-family="Liberation Sans" font-weight="bold" font-size="100" fill="#111" stroke="#111" stroke-width="4.98">9</text>
<path d="M436,579 L442,581" stroke="#111" stroke-width="0.5"/>
<ellipse cx="450.1" cy="556.2" rx="9.40" ry="13.10" transform="rotate(33.0 450.1 556.2)" fill="#fff" stroke="#111" stroke-width="1.20" />
<ellipse cx="442.8" cy="566.1" rx="2.00" ry="2.40" transform="rotate(128.0 442.8 566.1)" fill="#fff" stroke="#111" stroke-width="1.00" />
<ellipse cx="440.8" cy="563.1" rx="2.00" ry="2.40" transform="rotate(150.8 440.8 563.1)" fill="#fff" stroke="#111" stroke-width="1.00" />
<ellipse cx="440.3" cy="559.1" rx="2.00" ry="2.40" transform="rotate(173.6 440.3 559.1)" fill="#fff" stroke="#111" stroke-width="1.00" />
<ellipse cx="441.3" cy="554.7" rx="2.00" ry="2.40" transform="rotate(196.3 441.3 554.7)" fill="#fff" stroke="#111" stroke-width="1.00" />
<ellipse cx="443.6" cy="550.4" rx="2.00" ry="2.40" transform="rotate(219.1 443.6 550.4)" fill="#fff" stroke="#111" stroke-width="1.00" />
<ellipse cx="447.0" cy="547.1" rx="2.00" ry="2.40" transform="rotate(241.9 447.0 547.1)" fill="#fff" stroke="#111" stroke-width="1.00" />
<ellipse cx="450.9" cy="545.2" rx="2.00" ry="2.40" transform="rotate(264.7 450.9 545.2)" fill="#fff" stroke="#111" stroke-width="1.00" />
<ellipse cx="454.6" cy="545.0" rx="2.00" ry="2.40" transform="rotate(287.4 454.6 545.0)" fill="#fff" stroke="#111" stroke-width="1.00" />
<ellipse cx="457.7" cy="546.6" rx="2.00" ry="2.40" transform="rotate(310.2 457.7 546.6)" fill="#fff" stroke="#111" stroke-width="1.00" />
<ellipse cx="459.5" cy="549.6" rx="2.00" ry="2.40" transform="rotate(333.0 459.5 549.6)" fill="#fff" stroke="#111" stroke-width="1.00" />
<ellipse cx="451.3" cy="555.9" rx="6.20" ry="9.70" transform="rotate(33.0 451.3 555.9)" fill="none" stroke="#111" stroke-width="1.00" />
<ellipse cx="452.3" cy="556.8" rx="4.60" ry="7.90" transform="rotate(33.0 452.3 556.8)" fill="none" stroke="#111" stroke-width="1.60" />
<line x1="481.2" y1="502.9" x2="457.0" y2="546.4" stroke="#111" stroke-width="1.30" />
<text transform="translate(481.29 502.70) scale(0.0748 0.0971)" font-family="Liberation Sans" font-weight="bold" font-size="100" fill="#111" stroke="#111" stroke-width="5.24">4</text>
<ellipse cx="467.7" cy="566.2" rx="8.00" ry="14.00" transform="rotate(33.0 467.7 566.2)" fill="none" stroke="#111" stroke-width="1.30" />
<ellipse cx="467.5" cy="566.2" rx="6.10" ry="12.00" transform="rotate(33.0 467.5 566.2)" fill="none" stroke="#111" stroke-width="1.00" />
<ellipse cx="483.3" cy="575.9" rx="8.80" ry="15.00" transform="rotate(33.0 483.3 575.9)" fill="none" stroke="#111" stroke-width="1.30" />
<ellipse cx="483.5" cy="575.9" rx="7.40" ry="13.50" transform="rotate(33.0 483.5 575.9)" fill="none" stroke="#111" stroke-width="0.70" />
<ellipse cx="484.3" cy="575.9" rx="6.00" ry="11.60" transform="rotate(33.0 484.3 575.9)" fill="none" stroke="#111" stroke-width="1.00" />
<ellipse cx="498.2" cy="583.3" rx="8.00" ry="14.00" transform="rotate(33.0 498.2 583.3)" fill="none" stroke="#111" stroke-width="1.30" />
<ellipse cx="498.2" cy="583.3" rx="6.10" ry="12.00" transform="rotate(33.0 498.2 583.3)" fill="none" stroke="#111" stroke-width="1.00" />
<ellipse cx="515.6" cy="594.0" rx="8.30" ry="14.60" transform="rotate(33.0 515.6 594.0)" fill="none" stroke="#111" stroke-width="2.20" />
<ellipse cx="515.6" cy="594.0" rx="6.60" ry="12.80" transform="rotate(33.0 515.6 594.0)" fill="none" stroke="#111" stroke-width="0.70" />
<line x1="513.0" y1="524.1" x2="476.4" y2="554.1" stroke="#111" stroke-width="1.30" />
<line x1="513.0" y1="524.1" x2="502.4" y2="570.5" stroke="#111" stroke-width="1.30" />
<text transform="translate(512.71 522.20) scale(0.0833 0.0957)" font-family="Liberation Sans" font-weight="bold" font-size="100" fill="#111" stroke="#111" stroke-width="5.03">2</text>
<line x1="538.2" y1="536.7" x2="521.8" y2="582.1" stroke="#111" stroke-width="1.30" />
<text transform="translate(537.42 535.70) scale(0.0581 0.1116)" font-family="Liberation Sans" font-weight="bold" font-size="100" fill="#111" stroke="#111" stroke-width="5.30">1</text>
<line x1="462.8" y1="613.0" x2="476.4" y2="588.9" stroke="#111" stroke-width="1.30" />
<text transform="translate(458.79 622.59) scale(0.0848 0.1085)" font-family="Liberation Sans" font-weight="bold" font-size="100" fill="#111" stroke="#111" stroke-width="4.66">3</text>
<path d="M416,537.5 L527.1,600.4 M403,558.5 L418.5,566.8" stroke="#111" stroke-width="0.6" stroke-dasharray="5 3"/>
</svg></body></html>
